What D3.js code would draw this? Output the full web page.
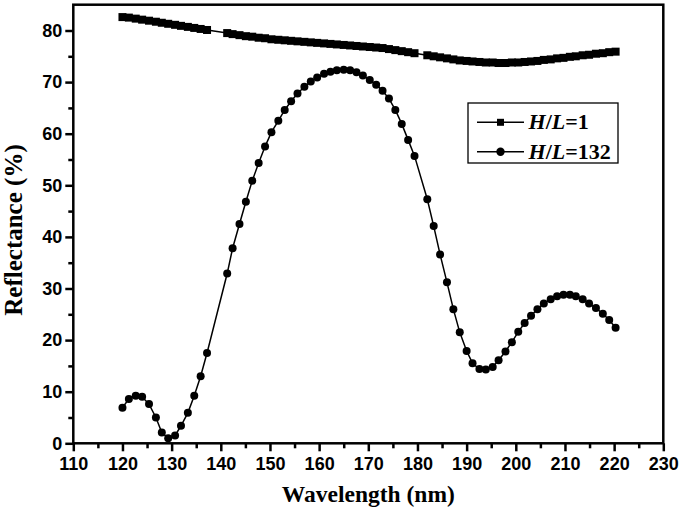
<!DOCTYPE html>
<html>
<head>
<meta charset="utf-8">
<script src="https://cdn.jsdelivr.net/npm/d3@7"></script>
<style>
    body { margin: 0; background: #fff; }
    svg { display: block; }
</style>
</head>
<body>
<svg id="chart" width="685" height="524"></svg>
<script>
// wavelength (nm), shared by both curves
var wavelength = [
    120.0, 121.3, 122.7, 124.0, 125.4, 126.8, 128.0, 129.3, 130.7, 131.9, 133.3, 134.6, 135.9, 137.2,
    141.3, 142.4, 143.8, 145.1, 146.4, 147.7, 149.0, 150.3, 151.7, 153.0, 154.3, 155.6, 157.0, 158.3,
    159.6, 161.0, 162.3, 163.6, 165.0, 166.3, 167.6, 168.9, 170.3, 171.6, 172.9, 174.2, 175.5, 176.8,
    178.1, 179.4, 182.0, 183.3, 184.6, 186.0, 187.3, 188.6, 190.0, 191.2, 192.6, 193.9, 195.3, 196.5,
    197.9, 199.2, 200.5, 201.8, 203.1, 204.4, 205.7, 207.1, 208.4, 209.7, 211.0, 212.2, 213.6, 214.9,
    216.3, 217.7, 219.0, 220.3
];

// H/L = 1
var reflHL1 = [
    82.6, 82.5, 82.3, 82.1, 81.9, 81.7, 81.5, 81.3, 81.1, 80.9, 80.7, 80.5, 80.3, 80.1,
    79.5, 79.3, 79.1, 78.9, 78.8, 78.6, 78.5, 78.3, 78.2, 78.1, 78.0, 77.9, 77.8, 77.7,
    77.6, 77.5, 77.4, 77.3, 77.2, 77.1, 77.0, 76.9, 76.8, 76.7, 76.6, 76.4, 76.2, 76.0,
    75.8, 75.6, 75.2, 75.0, 74.8, 74.6, 74.4, 74.2, 74.1, 74.0, 73.9, 73.8, 73.8, 73.7,
    73.7, 73.8, 73.8, 73.9, 74.0, 74.1, 74.3, 74.4, 74.6, 74.7, 74.9, 75.0, 75.2, 75.3,
    75.5, 75.6, 75.8, 75.9
];

// H/L = 132
var reflHL132 = [
    6.9, 8.6, 9.2, 9.0, 7.6, 5.0, 2.1, 1.0, 1.5, 3.4, 5.9, 9.2, 13.0, 17.5,
    32.9, 37.8, 42.5, 46.8, 50.9, 54.3, 57.5, 60.3, 62.5, 64.6, 66.3, 67.8, 69.1, 70.1,
    70.9, 71.6, 72.0, 72.3, 72.4, 72.3, 71.9, 71.3, 70.4, 69.5, 68.3, 66.8, 64.6, 61.9,
    58.8, 55.7, 47.3, 42.1, 36.6, 31.2, 26.0, 21.5, 17.9, 15.5, 14.4, 14.3, 14.8, 16.1,
    17.8, 19.6, 21.6, 23.3, 24.7, 26.0, 27.1, 27.9, 28.5, 28.8, 28.8, 28.5, 27.9, 27.1,
    26.2, 25.1, 23.9, 22.4
];

var xTicks = [110, 120, 130, 140, 150, 160, 170, 180, 190, 200, 210, 220, 230];
var yTicks = [0, 10, 20, 30, 40, 50, 60, 70, 80];
var seriesNames = ["1", "132"];

var svg = d3.select("#chart");
var plotLeft = 73.3, plotRight = 663.3, plotTop = 4.7, plotBottom = 443.3;

var x = d3.scaleLinear().domain([110, 230]).range([plotLeft, plotRight]);
var y = d3.scaleLinear().domain([0, 85]).range([plotBottom, plotTop]);

var sansBold = "'Liberation Sans', Arial, sans-serif";
var serif = "'Liberation Serif', 'Times New Roman', serif";
var sq = 8;    // square marker side
var dotR = 4;  // circle marker radius

function styleAxis(g) {
    g.select(".domain").remove();
    g.selectAll("line").attr("stroke", "black").attr("stroke-width", 2.5);
    g.selectAll("text")
        .attr("font-family", sansBold)
        .attr("font-weight", "bold")
        .attr("font-size", 18)
        .attr("fill", "black");
}

var minorX = d3.range(115, 230, 10);
var minorY = d3.range(5, 85, 10);

svg.append("g")
    .attr("transform", "translate(0," + plotBottom + ")")
    .call(d3.axisBottom(x).tickValues(minorX).tickSize(5).tickFormat(""))
    .call(styleAxis);
svg.append("g")
    .attr("transform", "translate(0," + plotBottom + ")")
    .call(d3.axisBottom(x).tickValues(xTicks).tickSize(8).tickPadding(6).tickFormat(d3.format("d")))
    .call(styleAxis);

svg.append("g")
    .attr("transform", "translate(" + plotLeft + ",0)")
    .call(d3.axisLeft(y).tickValues(minorY).tickSize(5).tickFormat(""))
    .call(styleAxis);
svg.append("g")
    .attr("transform", "translate(" + plotLeft + ",0)")
    .call(d3.axisLeft(y).tickValues(yTicks).tickSize(8).tickPadding(3).tickFormat(d3.format("d")))
    .call(styleAxis);

// frame
svg.append("rect")
    .attr("x", plotLeft)
    .attr("y", plotTop)
    .attr("width", plotRight - plotLeft)
    .attr("height", plotBottom - plotTop)
    .attr("fill", "none")
    .attr("stroke", "black")
    .attr("stroke-width", 2.5);

// axis titles
svg.append("text")
    .attr("x", (plotLeft + plotRight) / 2)
    .attr("y", 502)
    .attr("text-anchor", "middle")
    .attr("font-family", serif)
    .attr("font-weight", "bold")
    .attr("font-size", 23.5)
    .text("Wavelength (nm)");

svg.append("text")
    .attr("transform", "translate(22,230) rotate(-90)")
    .attr("text-anchor", "middle")
    .attr("font-family", serif)
    .attr("font-weight", "bold")
    .attr("font-size", 25)
    .text("Reflectance (%)");

// curves
var pts1 = wavelength.map(function(w, i) { return { x: w, y: reflHL1[i] }; });
var pts2 = wavelength.map(function(w, i) { return { x: w, y: reflHL132[i] }; });

var line = d3.line()
    .x(function(d) { return x(d.x); })
    .y(function(d) { return y(d.y); });

var plot = svg.append("g");

plot.append("path")
    .attr("d", line(pts1))
    .attr("fill", "none")
    .attr("stroke", "black")
    .attr("stroke-width", 1.5);

plot.selectAll("rect.sq")
    .data(pts1).enter().append("rect")
    .attr("class", "sq")
    .attr("x", function(d) { return x(d.x) - sq / 2; })
    .attr("y", function(d) { return y(d.y) - sq / 2; })
    .attr("width", sq)
    .attr("height", sq)
    .attr("fill", "black");

plot.append("path")
    .attr("d", line(pts2))
    .attr("fill", "none")
    .attr("stroke", "black")
    .attr("stroke-width", 1.5);

plot.selectAll("circle.dot")
    .data(pts2).enter().append("circle")
    .attr("class", "dot")
    .attr("cx", function(d) { return x(d.x); })
    .attr("cy", function(d) { return y(d.y); })
    .attr("r", dotR)
    .attr("fill", "black");

// legend
var legend = svg.append("g");
legend.append("rect")
    .attr("x", 468)
    .attr("y", 103)
    .attr("width", 150)
    .attr("height", 60)
    .attr("fill", "white")
    .attr("stroke", "black")
    .attr("stroke-width", 1.3);

var rows = [122.3, 151.7];
seriesNames.forEach(function(name, i) {
    var ly = rows[i];
    legend.append("line")
        .attr("x1", 477).attr("x2", 524)
        .attr("y1", ly).attr("y2", ly)
        .attr("stroke", "black")
        .attr("stroke-width", 1.5);
    if (i === 0) {
        legend.append("rect")
            .attr("x", 500.5 - 3.5).attr("y", ly - 3.5)
            .attr("width", 7).attr("height", 7)
            .attr("fill", "black");
    } else {
        legend.append("circle")
            .attr("cx", 500.5).attr("cy", ly)
            .attr("r", 4.2)
            .attr("fill", "black");
    }
    var t = legend.append("text")
        .attr("x", 528.5)
        .attr("y", ly + 7)
        .attr("font-family", serif)
        .attr("font-weight", "bold")
        .attr("font-size", 22);
    t.append("tspan").attr("font-style", "italic").text("H");
    t.append("tspan").text("/");
    t.append("tspan").attr("font-style", "italic").text("L");
    t.append("tspan").text("=" + name);
});
</script>
</body>
</html>
